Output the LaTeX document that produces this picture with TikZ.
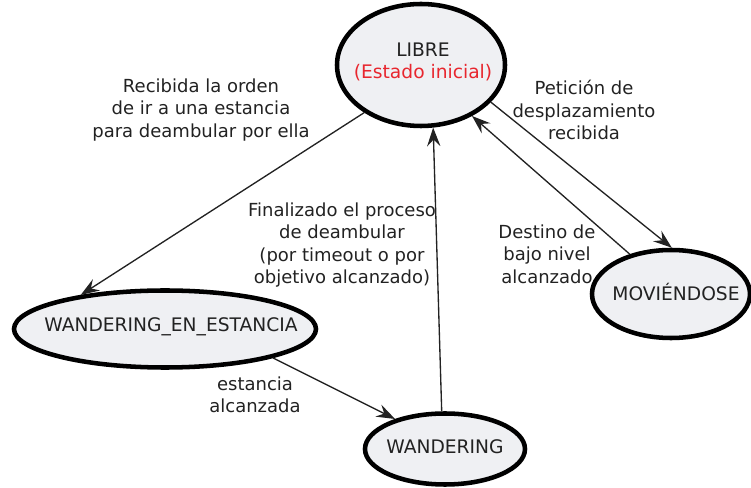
\documentclass[tikz,border=0pt]{standalone}
\usepackage{fontspec}
\setmainfont{DejaVu Sans}
\usetikzlibrary{shapes.geometric,arrows.meta}
\definecolor{ink}{HTML}{222222}
\definecolor{statefill}{HTML}{EFF0F3}
\definecolor{initred}{HTML}{E8262E}

\begin{document}
\begin{tikzpicture}[x=0.75pt, y=-0.75pt,
  font=\fontsize{13.5}{16.9}\selectfont, text=ink,
  state/.style={ellipse, draw=black, line width=3.4pt, fill=statefill,
                inner sep=0pt},
  txt/.style={align=center, inner sep=0pt},
  stxt/.style={txt, font=\fontsize{14}{16.9}\selectfont},
  trans/.style={draw=ink, line width=1pt,
                -{Stealth[length=14pt, width=10pt, inset=5pt]}}]

\useasboundingbox (0,0) rectangle (751,488);

% states
\node[state, minimum width=126pt, minimum height=91.5pt] (libre) at (421,65) {};
\node[stxt] (libre-t) at (423,62) {LIBRE\\{\color{initred}(Estado inicial)}};

\node[state, minimum width=226.5pt, minimum height=57.75pt] (wee) at (165,329) {};
\node[stxt] (wee-t) at (171,327) {WANDERING\_EN\_ESTANCIA};

\node[state, minimum width=120pt, minimum height=53.25pt] (wandering) at (445,449) {};
\node[stxt] (wandering-t) at (445,447) {WANDERING};

\node[state, minimum width=118.5pt, minimum height=66pt] (mov) at (671,294) {};
\node[stxt] (mov-t) at (676,292) {MOVIÉNDOSE};

% transitions
\draw[trans] (libre.220) -- (wee.158);
\draw[trans] (wee.345) -- (wandering.149);
\draw[trans] (wandering.95) -- (libre.281);
\draw[trans] (libre.332) -- (mov.89);
\draw[trans] (mov.136) -- (libre.315);

% labels
\node[txt] (l-orden) at (201,110)
  {Recibida la orden\\de ir a una estancia\\para deambular por ella};
\node[txt] (l-fin) at (342,245)
  {Finalizado el proceso\\de deambular\\(por timeout o por\\objetivo alcanzado)};
\node[txt] (l-peticion) at (584,110)
  {Petición de\\desplazamiento\\recibida};
\node[txt] (l-destino) at (547,254)
  {Destino de\\bajo nivel\\alcanzado};
\node[txt] (l-estancia) at (255,395) {estancia\\alcanzada};

\end{tikzpicture}
\end{document}
